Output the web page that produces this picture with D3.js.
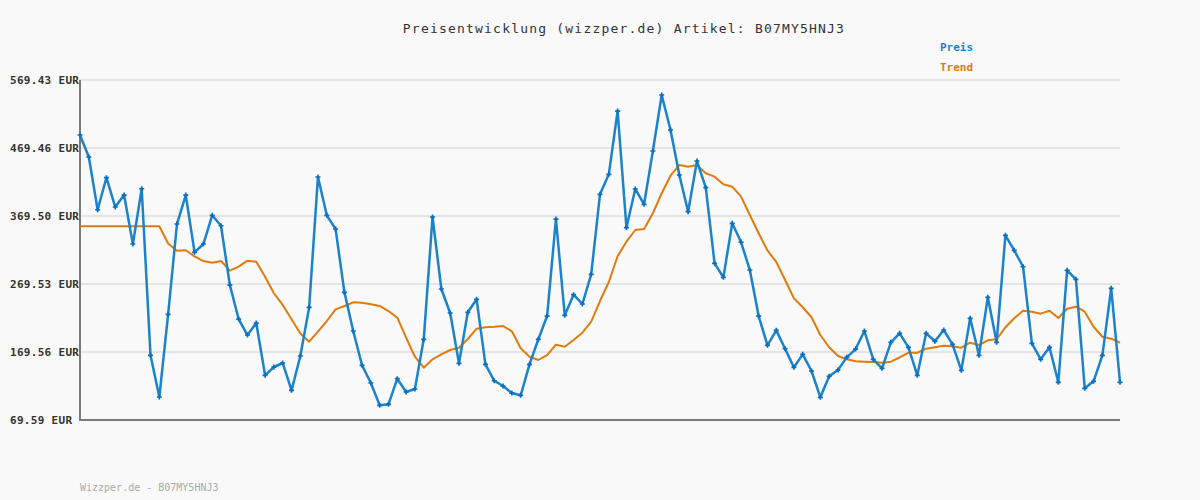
<!DOCTYPE html>
<html lang="de">
<head>
<meta charset="UTF-8">
<title>Preisentwicklung B07MY5HNJ3</title>
<script src="https://d3js.org/d3.v7.min.js"></script>
<style>
  body { margin: 0; background: #f9f9f9; }
  svg { display: block; font-family: "DejaVu Sans Mono", monospace; }
</style>
</head>
<body>
<svg id="chart" width="1200" height="500"></svg>
<script>
const title = "Preisentwicklung (wizzper.de) Artikel: B07MY5HNJ3";
const footer = "Wizzper.de - B07MY5HNJ3";
const yTicks = [69.59, 169.56, 269.53, 369.50, 469.46, 569.43];

// price per observation (EUR)
const preis = [
  488.6, 456.2, 378.7, 425.8, 382.7, 400.3, 328.3, 409.6, 164.7, 103.4,
  224.9, 357.7, 400.3, 316.1, 328.3, 370.5, 355.2, 268.0, 218.0, 194.5,
  212.1, 135.3, 147.5, 153.4, 113.2, 163.7, 235.2, 426.8, 370.5, 350.4,
  257.3, 200.4, 150.0, 124.0, 91.2, 92.6, 130.3, 110.7, 115.2, 188.2,
  368.0, 262.2, 226.9, 152.9, 227.9, 247.0, 151.4, 127.3, 119.5, 109.2,
  105.9, 151.4, 188.2, 222.4, 365.0, 223.5, 253.8, 240.1, 283.8, 401.4,
  430.8, 523.8, 352.3, 409.2, 386.7, 465.0, 547.4, 495.9, 429.8, 375.8,
  450.3, 411.1, 299.9, 279.3, 358.7, 331.2, 290.1, 222.4, 179.4, 201.4,
  174.4, 147.0, 166.1, 141.6, 102.9, 133.8, 143.1, 161.7, 173.9, 200.4,
  158.8, 145.5, 183.8, 197.0, 176.4, 135.3, 197.0, 185.3, 201.9, 180.9,
  142.6, 219.1, 164.7, 249.9, 183.8, 341.1, 319.0, 294.9, 182.3, 158.8,
  176.4, 125.0, 289.6, 276.4, 116.2, 126.4, 164.7, 263.2, 125.0
];

// trend (moving average) per observation (EUR)
const trend = [
  354.4, 354.4, 354.4, 354.4, 354.4, 354.4, 354.4, 354.4, 354.4, 354.4,
  329.1, 318.5, 319.1, 310.0, 303.3, 300.8, 303.3, 289.1, 295.0, 303.8,
  302.3, 280.3, 255.9, 238.7, 217.6, 196.8, 184.7, 199.4, 215.1, 232.3,
  237.2, 242.6, 242.0, 239.7, 237.2, 229.8, 220.0, 190.6, 162.6, 146.5,
  158.8, 166.2, 172.5, 175.9, 188.7, 203.8, 205.9, 206.7, 207.8, 200.0,
  175.0, 162.6, 157.8, 165.1, 180.3, 177.3, 187.2, 197.9, 214.1, 244.5,
  272.5, 310.7, 331.7, 348.9, 350.4, 373.5, 402.9, 428.7, 444.5, 442.0,
  444.5, 432.3, 427.3, 416.1, 412.6, 397.9, 371.0, 344.1, 318.8, 301.9,
  275.4, 248.5, 235.3, 220.6, 194.5, 176.5, 163.7, 158.8, 155.9, 155.3,
  154.9, 153.8, 155.3, 161.5, 168.5, 168.5, 174.4, 176.5, 178.8, 177.9,
  175.9, 183.2, 179.8, 186.8, 188.2, 205.9, 219.1, 230.3, 228.8, 225.9,
  230.3, 219.5, 233.2, 236.2, 228.8, 206.7, 192.0, 189.1, 183.2
];

const colors = { preis: "#1b82cc", marker: "#0b6fbf", trend: "#e07b0c" };

const svg = d3.select("#chart");
const margin = { top: 80, right: 80, bottom: 80, left: 80 };
const width = 1200 - margin.left - margin.right;
const height = 500 - margin.top - margin.bottom;

const x = d3.scaleLinear().domain([0, preis.length - 1]).range([margin.left, margin.left + width]);
const y = d3.scaleLinear().domain([yTicks[0], yTicks[yTicks.length - 1]]).range([margin.top + height, margin.top]);

svg.append("rect").attr("width", 1200).attr("height", 500).attr("fill", "#f9f9f9");

// grid lines
svg.append("g")
  .selectAll("line")
  .data(yTicks.slice(1))
  .join("line")
  .attr("x1", margin.left)
  .attr("x2", margin.left + width)
  .attr("y1", d => y(d))
  .attr("y2", d => y(d))
  .attr("stroke", "#e4e4e4")
  .attr("stroke-width", 2);

// tick labels, left aligned
svg.append("g")
  .selectAll("text")
  .data(yTicks)
  .join("text")
  .attr("x", 10)
  .attr("y", d => y(d))
  .attr("dy", "0.35em")
  .attr("font-size", 11)
  .attr("font-weight", "bold")
  .attr("letter-spacing", 0.3)
  .attr("fill", "#333")
  .text(d => d.toFixed(2) + " EUR");

// axes
svg.append("line")
  .attr("x1", margin.left).attr("x2", margin.left)
  .attr("y1", y(yTicks[yTicks.length - 1])).attr("y2", y(yTicks[0]) + 1)
  .attr("stroke", "#7a7a7a").attr("stroke-width", 2);
svg.append("line")
  .attr("x1", margin.left - 1).attr("x2", margin.left + width)
  .attr("y1", y(yTicks[0])).attr("y2", y(yTicks[0]))
  .attr("stroke", "#7a7a7a").attr("stroke-width", 2);

// trend line
const line = d3.line().x((d, i) => x(i)).y(d => y(d));
svg.append("path")
  .datum(trend)
  .attr("fill", "none")
  .attr("stroke", colors.trend)
  .attr("stroke-width", 2)
  .attr("stroke-linejoin", "round")
  .attr("d", line);

// price line
svg.append("path")
  .datum(preis)
  .attr("fill", "none")
  .attr("stroke", colors.preis)
  .attr("stroke-width", 2.5)
  .attr("stroke-linejoin", "round")
  .attr("d", line);

svg.append("g")
  .selectAll("path")
  .data(preis)
  .join("path")
  .attr("transform", (d, i) => `translate(${x(i)},${y(d)})`)
  .attr("d", d3.symbol(d3.symbolCross, 14))
  .attr("fill", colors.marker);

// title
svg.append("text")
  .attr("x", 624)
  .attr("y", 28)
  .attr("dy", "0.35em")
  .attr("text-anchor", "middle")
  .attr("font-size", 13)
  .attr("letter-spacing", 1.2)
  .attr("fill", "#333")
  .text(title);

// legend
[["Preis", colors.preis], ["Trend", colors.trend]].forEach(([name, c], i) => {
  svg.append("text")
    .attr("x", 940)
    .attr("y", 47 + i * 20)
    .attr("dy", "0.35em")
    .attr("font-size", 11)
    .attr("font-weight", "bold")
    .attr("fill", c)
    .text(name);
});

// footer
svg.append("text")
  .attr("x", 80)
  .attr("y", 487)
  .attr("dy", "0.35em")
  .attr("font-size", 10)
  .attr("fill", "#aaa")
  .text(footer);
</script>
</body>
</html>
